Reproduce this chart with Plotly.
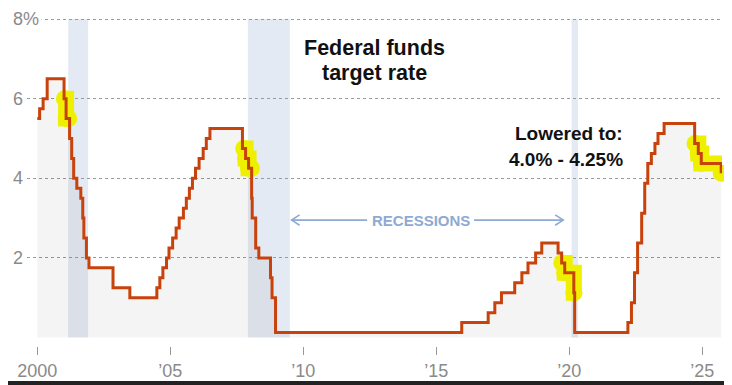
import numpy as np
import pandas as pd
import plotly.graph_objects as go

# ---------------- data ----------------
change_dates = ["2000-01-01", "2000-02-02", "2000-03-21", "2000-05-16", "2001-01-03", "2001-01-31",
                "2001-03-20", "2001-04-18", "2001-05-15", "2001-06-27", "2001-08-21", "2001-09-17",
                "2001-10-02", "2001-11-06", "2001-12-11", "2002-11-06", "2003-06-25", "2004-06-30",
                "2004-08-10", "2004-09-21", "2004-11-10", "2004-12-14", "2005-02-02", "2005-03-22",
                "2005-05-03", "2005-06-30", "2005-08-09", "2005-09-20", "2005-11-01", "2005-12-13",
                "2006-01-31", "2006-03-28", "2006-05-10", "2006-06-29", "2007-09-18", "2007-10-31",
                "2007-12-11", "2008-01-22", "2008-01-30", "2008-03-18", "2008-04-30", "2008-10-08",
                "2008-10-29", "2008-12-16", "2015-12-16", "2016-12-14", "2017-03-15", "2017-06-14",
                "2017-12-13", "2018-03-21", "2018-06-13", "2018-09-26", "2018-12-19", "2019-07-31",
                "2019-09-18", "2019-10-30", "2020-03-03", "2020-03-15", "2022-03-16", "2022-05-04",
                "2022-06-15", "2022-07-27", "2022-09-21", "2022-11-02", "2022-12-14", "2023-02-01",
                "2023-03-22", "2023-05-03", "2023-07-26", "2024-09-18", "2024-11-07", "2024-12-18",
                "2025-09-17"]
target_rate = [5.5, 5.75, 6.0, 6.5, 6.0, 5.5, 5.0, 4.5, 4.0, 3.75, 3.5, 3.0, 2.5, 2.0, 1.75, 1.25, 1.0,
               1.25, 1.5, 1.75, 2.0, 2.25, 2.5, 2.75, 3.0, 3.25, 3.5, 3.75, 4.0, 4.25, 4.5, 4.75, 5.0,
               5.25, 4.75, 4.5, 4.25, 3.5, 3.0, 2.25, 2.0, 1.5, 1.0, 0.125, 0.375, 0.625, 0.875, 1.125,
               1.375, 1.625, 1.875, 2.125, 2.375, 2.125, 1.875, 1.625, 1.125, 0.125, 0.375, 0.875,
               1.625, 2.375, 3.125, 3.875, 4.375, 4.625, 4.875, 5.125, 5.375, 4.875, 4.625, 4.375,
               4.125]

recession_starts = ["2001-03-01", "2007-12-01", "2020-02-01"]
recession_ends = ["2001-11-30", "2009-06-30", "2020-04-30"]

# start of each easing cycle (highlighted in yellow)
highlight_starts = ["2001-01-08", "2007-10-05", "2019-09-20", "2024-09-22"]
highlight_ends = ["2001-03-08", "2008-01-20", "2020-03-06", "2025-09-17"]

xtick_vals = [2000, 2005, 2010, 2015, 2020, 2025]
xtick_text = ["2000", "\u201905", "\u201910", "\u201915", "\u201920", "\u201925"]
ytick_vals = [2, 4, 6, 8]
ytick_text = ["2", "4", "6", "8%"]

title_lines = ["Federal funds", "target rate"]
note_lines = ["Lowered to:", "4.0% - 4.25%"]
recession_label = "RECESSIONS"


def dec_year(dates):
    d = pd.to_datetime(pd.Series(dates))
    days = np.where(d.dt.is_leap_year, 366, 365)
    return (d.dt.year + (d.dt.dayofyear - 1) / days).to_numpy()


x = dec_year(change_dates)
y = np.array(target_rate)


def step_segment(a, b):
    """Sub-series of the step function between a and b."""
    idx = np.searchsorted(x, a, side="right") - 1
    xs, ys = [a], [y[idx]]
    for xi, yi in zip(x, y):
        if a < xi <= b:
            xs.append(xi)
            ys.append(yi)
    if xs[-1] < b:
        xs.append(b)
        ys.append(ys[-1])
    return xs, ys


# ---------------- layout geometry (viewport pixels) ----------------
OFF = 8                      # default page body margin
VW, VH = 732, 385            # browser window
W, H = VW - OFF, VH - OFF    # figure size
L, R, T, B = 27, 722, 10, 346   # plot area edges in viewport pixels
PX_PER_YEAR = 26.6
X2000_PX = 37.3
Y0_PX = 337.5
PX_PER_PT = 39.8

x_range = [2000 - (X2000_PX - L) / PX_PER_YEAR, 2000 + (R - X2000_PX) / PX_PER_YEAR]
y_range = [-(B - Y0_PX) / PX_PER_PT, (Y0_PX - T) / PX_PER_PT]


def pxx(p):
    return (p - L) / (R - L)


def pxy(p):
    return (B - p) / (B - T)


LINE_COLOR = "#c8420c"
FILL_COLOR = "rgba(0,0,0,0.045)"
BAND_COLOR = "#e4eaf3"
YELLOW = "#eef000"
LABEL_BLUE = "#8eaad3"
GRAY_TEXT = "#8a8a8a"
FONT = "Liberation Sans, Arial, sans-serif"

fig = go.Figure()

# area under the line
fig.add_trace(go.Scatter(x=x, y=y, mode="lines", line=dict(shape="hv", width=0),
                         fill="tozeroy", fillcolor=FILL_COLOR, hoverinfo="skip", showlegend=False))

# yellow highlights
for a, b in zip(dec_year(highlight_starts), dec_year(highlight_ends)):
    hx, hy = step_segment(a, b)
    fig.add_trace(go.Scatter(x=hx, y=hy, mode="lines+markers",
                             line=dict(shape="hv", width=16, color=YELLOW),
                             marker=dict(size=17, color=YELLOW, line=dict(width=0)),
                             cliponaxis=False, hoverinfo="skip", showlegend=False))

# main line
fig.add_trace(go.Scatter(x=x, y=y, mode="lines", line=dict(shape="hv", width=3, color=LINE_COLOR),
                         showlegend=False, hovertemplate="%{y:.3f}%<extra></extra>"))

shapes = []
for a, b in zip(dec_year(recession_starts), dec_year(recession_ends)):
    shapes.append(dict(type="rect", xref="x", yref="y", x0=a, x1=b, y0=0, y1=8,
                       fillcolor=BAND_COLOR, line=dict(width=0), layer="below"))

# recession arrows
ARROW_Y = 2.95
left_tip, left_tail = 2009.56, 2012.40
right_tail, right_tip = 2016.42, 2019.77
hw, hh = 0.30, 0.13
for x0, x1 in [(left_tip, left_tail), (right_tail, right_tip)]:
    shapes.append(dict(type="line", xref="x", yref="y", x0=x0, x1=x1, y0=ARROW_Y, y1=ARROW_Y,
                       line=dict(color=LABEL_BLUE, width=1.6), layer="above"))
shapes.append(dict(type="path", xref="x", yref="y",
                   path=f"M {left_tip + hw},{ARROW_Y + hh} L {left_tip},{ARROW_Y} L {left_tip + hw},{ARROW_Y - hh}",
                   line=dict(color=LABEL_BLUE, width=1.6), layer="above"))
shapes.append(dict(type="path", xref="x", yref="y",
                   path=f"M {right_tip - hw},{ARROW_Y + hh} L {right_tip},{ARROW_Y} L {right_tip - hw},{ARROW_Y - hh}",
                   line=dict(color=LABEL_BLUE, width=1.6), layer="above"))

# dark frame edges of the screenshot
shapes.append(dict(type="rect", xref="paper", yref="paper", x0=pxx(0), x1=pxx(VW + 10),
                   y0=pxy(381), y1=pxy(VH + 10), fillcolor="#222222", line=dict(width=0), layer="above"))
shapes.append(dict(type="rect", xref="paper", yref="paper", x0=pxx(730), x1=pxx(VW + 10),
                   y0=pxy(VH + 10), y1=pxy(0), fillcolor="#222222", line=dict(width=0), layer="above"))

annotations = []
for v, t in zip(ytick_vals, ytick_text):
    annotations.append(dict(x=pxx(10), xref="paper", y=v, yref="y", text=t, showarrow=False,
                            xanchor="left", yanchor="middle", bgcolor="white", borderpad=2,
                            font=dict(family=FONT, size=18, color=GRAY_TEXT)))

for line_txt, ypx in zip(title_lines, [47.5, 72.5]):
    annotations.append(dict(x=pxx(374.5), xref="paper", y=pxy(ypx), yref="paper", text=f"<b>{line_txt}</b>",
                            showarrow=False, xanchor="center", yanchor="middle",
                            font=dict(family=FONT, size=21.5, color="#111111")))

for line_txt, ypx in zip(note_lines, [133.5, 159.5]):
    annotations.append(dict(x=pxx(624.5), xref="paper", y=pxy(ypx), yref="paper", text=f"<b>{line_txt}</b>",
                            showarrow=False, xanchor="right", yanchor="middle",
                            font=dict(family=FONT, size=19, color="#111111")))

annotations.append(dict(x=(left_tail + right_tail) / 2, xref="x", y=ARROW_Y, yref="y",
                        text=f"<b>{recession_label}</b>", showarrow=False, xanchor="center",
                        yanchor="middle", font=dict(family=FONT, size=15, color=LABEL_BLUE)))

fig.update_layout(
    width=W, height=H,
    margin=dict(l=L - OFF, r=VW - R, t=T - OFF, b=VH - B, pad=0),
    paper_bgcolor="white", plot_bgcolor="white",
    showlegend=False,
    shapes=shapes, annotations=annotations,
    xaxis=dict(range=x_range, tickmode="array", tickvals=xtick_vals, ticktext=xtick_text,
               ticks="outside", ticklen=8, tickcolor="#999999", tickwidth=1,
               showgrid=False, zeroline=False, showline=False,
               tickfont=dict(family=FONT, size=18, color=GRAY_TEXT), fixedrange=True),
    yaxis=dict(range=y_range, tickmode="array", tickvals=ytick_vals, showticklabels=False,
               showgrid=True, gridcolor="#9a9a9a", gridwidth=1, griddash="dot",
               zeroline=False, showline=False, ticks="", fixedrange=True),
)

fig.write_html("out.html")
